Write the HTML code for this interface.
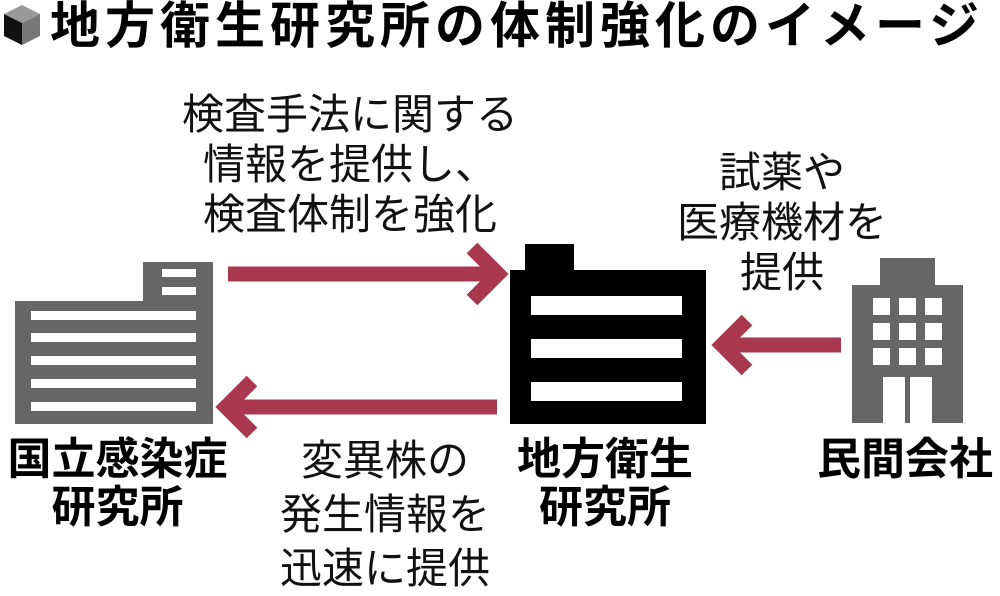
<!DOCTYPE html>
<html><head><meta charset="utf-8"><style>
body{margin:0;width:1000px;height:596px;background:#fff;position:relative;overflow:hidden;font-family:"Liberation Sans","Noto Sans CJK JP",sans-serif;}
.t{position:absolute;text-align:center;white-space:nowrap;color:#111;}
.l{font-size:42px;line-height:50px;font-weight:400;}
.b{font-size:44px;line-height:48px;font-weight:700;color:#000;}
</style></head><body>
<svg width="1000" height="596" style="position:absolute;left:0;top:0">
<polygon points="4,14 22,5 40,14 22,23" fill="#999"/>
<polygon points="4,14 22,23 22,45 4,36" fill="#111"/>
<polygon points="22,23 40,14 40,36 22,45" fill="#777"/>
<g fill="#666">
<rect x="143" y="262" width="70" height="40"/>
<rect x="15" y="301" width="198" height="123"/>
</g>
<g fill="#fff">
<rect x="162" y="269" width="34" height="8"/><rect x="162" y="287" width="34" height="8"/>
<rect x="31" y="311" width="165" height="9"/><rect x="31" y="333" width="165" height="9"/>
<rect x="31" y="356" width="165" height="9"/><rect x="31" y="379" width="165" height="9"/>
<rect x="31" y="402" width="165" height="9"/>
</g>
<rect x="525" y="244" width="49" height="30" fill="#000"/>
<rect x="510" y="270" width="196" height="154" fill="#000"/>
<g fill="#fff">
<rect x="531" y="296" width="151" height="19"/><rect x="531" y="339" width="151" height="19"/><rect x="531" y="382" width="151" height="19"/>
</g>
<g fill="#666">
<rect x="880" y="258" width="55" height="28"/>
<rect x="852" y="285" width="111" height="138"/>
</g>
<g fill="#fff">
<rect x="873" y="298" width="17" height="17"/><rect x="899" y="298" width="17" height="17"/><rect x="925" y="298" width="17" height="17"/>
<rect x="873" y="323" width="17" height="17"/><rect x="899" y="323" width="17" height="17"/><rect x="925" y="323" width="17" height="17"/>
<rect x="873" y="348" width="17" height="17"/><rect x="899" y="348" width="17" height="17"/><rect x="925" y="348" width="17" height="17"/>
<rect x="883" y="377" width="22" height="47"/><rect x="910" y="377" width="22" height="47"/>
</g>
<g stroke="#a8384e" stroke-width="15" fill="none">
<line x1="228" y1="274" x2="498" y2="274"/>
<polyline points="472,248 498,274 472,300"/>
<line x1="497" y1="407" x2="226" y2="407"/>
<polyline points="252,381 226,407 252,433"/>
<line x1="841" y1="345" x2="722" y2="345"/>
<polyline points="747,320 722,345 747,370"/>
</g>
</svg>
<div class="t" style="left:50px;top:0px;font-size:50px;line-height:52px;font-weight:700;letter-spacing:5px;color:#000;">地方衛生研究所の体制強化のイメージ</div>
<div class="t l" style="left:150px;width:400px;top:90px;">検査手法に関する<br>情報を提供し、<br>検査体制を強化</div>
<div class="t l" style="left:632px;width:300px;top:148px;">試薬や<br>医療機材を<br>提供</div>
<div class="t b" style="left:0px;width:235px;top:436px;">国立感染症<br>研究所</div>
<div class="t b" style="left:505px;width:200px;top:436px;">地方衛生<br>研究所</div>
<div class="t b" style="left:805px;width:200px;top:436px;">民間会社</div>
<div class="t l" style="left:235px;width:300px;top:434px;line-height:54px;">変異株の<br>発生情報を<br>迅速に提供</div>
</body></html>
